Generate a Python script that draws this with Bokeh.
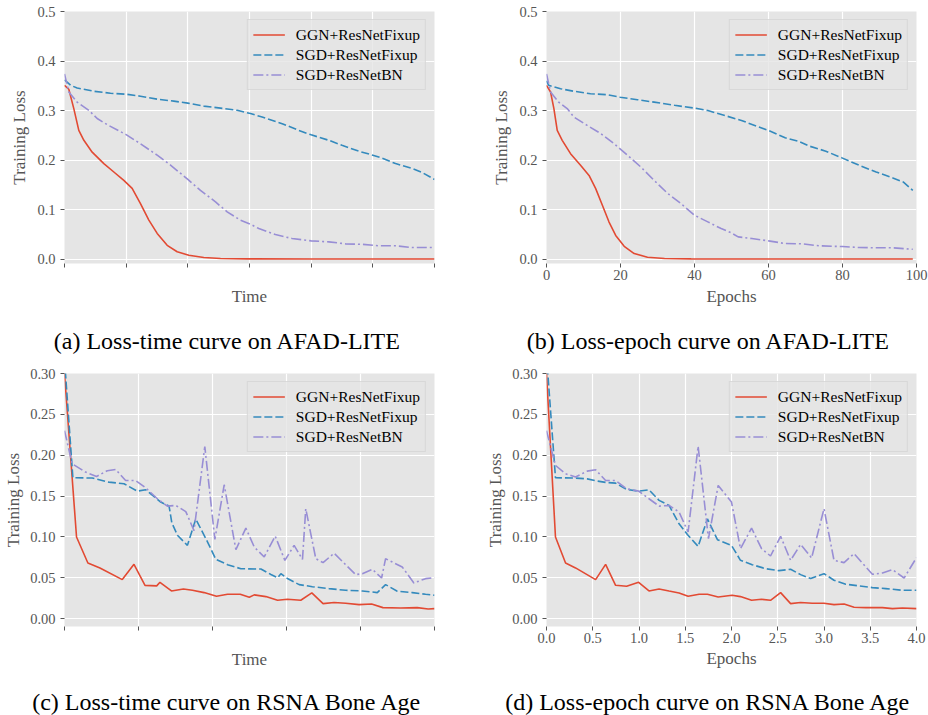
from bokeh.plotting import figure
from bokeh.models import Range1d, Legend, LegendItem, Label, NumeralTickFormatter
from bokeh.layouts import column, row
from bokeh.embed import file_html
from bokeh.resources import INLINE

FONT = "Liberation Serif"
RED, BLUE, PURPLE = "#E24A33", "#348ABD", "#988ED5"
NAMES = ["GGN+ResNetFixup", "SGD+ResNetFixup", "SGD+ResNetBN"]

# ---------------- (a) AFAD-LITE, loss vs time (time in tick units) ----------------
ggn_a_t = [0, 0.07, 0.151, 0.232, 0.314, 0.449, 0.638, 0.8, 0.962, 1.097, 1.232, 1.368, 1.503,
           1.665, 1.827, 2.016, 2.259, 2.53, 2.96, 4.0, 5.0, 6.0]
ggn_a = [0.351, 0.343, 0.304, 0.260, 0.240, 0.216, 0.193, 0.176, 0.159, 0.143, 0.112, 0.079, 0.052,
         0.028, 0.015, 0.008, 0.0034, 0.0013, 0.0007, 0.0005, 0.0005, 0.0005]
fix_a_t = [0, 0.1, 0.205, 0.476, 0.746, 1.0, 1.232, 1.503, 1.773, 2.0, 2.259, 2.53, 2.8, 3.016, 3.205,
           3.53, 3.8, 4.0, 4.286, 4.5, 4.773, 5.0, 5.15, 5.368, 5.638, 5.8, 6.0]
fix_a = [0.362, 0.351, 0.3455, 0.339, 0.335, 0.333, 0.329, 0.323, 0.319, 0.315, 0.309, 0.305, 0.3005,
         0.294, 0.287, 0.2736, 0.260, 0.251, 0.240, 0.230, 0.218, 0.210, 0.204, 0.193, 0.183, 0.175, 0.161]
bn_a_t = [0, 0.07, 0.205, 0.395, 0.53, 0.692, 1.0, 1.232, 1.503, 1.719, 2.0, 2.205, 2.449, 2.638, 2.854,
          3.016, 3.151, 3.42, 3.69, 4.0, 4.286, 4.557, 4.827, 5.097, 5.368, 5.638, 6.0]
bn_a = [0.374, 0.3375, 0.317, 0.3005, 0.284, 0.2716, 0.2514, 0.233, 0.210, 0.190, 0.161, 0.139, 0.1156,
        0.0955, 0.0787, 0.0706, 0.0618, 0.0497, 0.0417, 0.037, 0.035, 0.031, 0.030, 0.027, 0.027, 0.0235, 0.0235]
time_ticks_a = [0, 1, 2, 3, 4, 5, 6]

# ---------------- (b) AFAD-LITE, loss vs epochs ----------------
ggn_b_ep = [0, 1.1, 2.0, 2.9, 4.25, 6.5, 9.2, 11.5, 13.3, 15.1, 16.9, 18.7, 21.0, 23.7, 27.3, 31.9,
            39.1, 60, 80, 99]
ggn_b = [0.351, 0.3375, 0.304, 0.260, 0.240, 0.213, 0.1896, 0.169, 0.1425, 0.109, 0.075, 0.048, 0.026,
         0.0114, 0.004, 0.0013, 0.0007, 0.0005, 0.0005, 0.0005]
fix_b_ep = [0, 0.6, 3.8, 7.4, 11.9, 16.5, 19.9, 24.6, 29.1, 34.6, 40, 43.6, 48.2, 52.7, 57.3, 60, 64.5,
            68.2, 70.9, 75.5, 80, 84.5, 89.1, 93.6, 96.4, 99]
fix_b = [0.36, 0.351, 0.344, 0.339, 0.334, 0.332, 0.327, 0.322, 0.317, 0.3106, 0.305, 0.300, 0.290,
         0.280, 0.267, 0.260, 0.245, 0.238, 0.2286, 0.218, 0.204, 0.1896, 0.176, 0.164, 0.156, 0.139]
bn_b_ep = [0, 1.1, 3.3, 5.6, 7.4, 11.0, 14.7, 18.3, 21.9, 25.5, 29.1, 32.8, 36.4, 40, 43.6, 47.2, 50.0,
           51.8, 55.5, 60, 64.5, 69.1, 73.6, 77.3, 80, 84.5, 89.1, 93.6, 99]
bn_b = [0.374, 0.3375, 0.317, 0.304, 0.287, 0.270, 0.2535, 0.233, 0.210, 0.186, 0.159, 0.1325, 0.112,
        0.0887, 0.0753, 0.0618, 0.053, 0.045, 0.0417, 0.037, 0.0316, 0.031, 0.027, 0.026, 0.0255, 0.0235,
        0.023, 0.023, 0.020]
epoch_ticks_b = [0, 20, 40, 60, 80, 100]

# ---------------- (c) RSNA Bone Age, loss vs time (time in tick units) ----------------
ggn_c_t = [0, 0.1625, 0.316, 0.479, 0.781, 0.939, 1.088, 1.246, 1.29, 1.445, 1.607, 1.729, 1.887, 2.054,
           2.203, 2.375, 2.497, 2.564, 2.721, 2.879, 3.013, 3.193, 3.342, 3.494, 3.643, 3.8, 3.98, 4.15,
           4.303, 4.542, 4.766, 4.915, 5.0]
ggn_c = [0.30, 0.0998, 0.068, 0.062, 0.0477, 0.0664, 0.0407, 0.040, 0.0444, 0.0338, 0.0363, 0.0346,
         0.0318, 0.0273, 0.0297, 0.0297, 0.026, 0.029, 0.0269, 0.0224, 0.0236, 0.0224, 0.0314, 0.0183,
         0.0196, 0.0187, 0.0171, 0.0179, 0.0134, 0.013, 0.0134, 0.0118, 0.0122]
fix_c_t = [0, 0.113, 0.375, 0.6, 0.804, 0.984, 1.097, 1.30, 1.413, 1.45, 1.526, 1.661, 1.774, 1.932,
           2.045, 2.203, 2.384, 2.654, 2.789, 2.879, 2.924, 3.013, 3.171, 3.35, 3.575, 3.8, 4.025, 4.227,
           4.339, 4.497, 4.7, 4.879, 5.0]
fix_c = [0.317, 0.1724, 0.172, 0.167, 0.165, 0.156, 0.1577, 0.1426, 0.1377, 0.1174, 0.102, 0.0896,
         0.1218, 0.094, 0.0725, 0.066, 0.061, 0.0607, 0.054, 0.050, 0.055, 0.049, 0.0416, 0.039, 0.0367,
         0.0346, 0.0338, 0.0318, 0.0416, 0.0334, 0.0318, 0.0297, 0.0285]
bn_c_t = [0, 0.104, 0.284, 0.433, 0.578, 0.69, 0.826, 0.962, 1.097, 1.255, 1.39, 1.503, 1.639, 1.75,
          1.896, 2.032, 2.158, 2.316, 2.451, 2.564, 2.699, 2.847, 2.978, 3.103, 3.216, 3.26, 3.396, 3.494,
          3.643, 3.935, 4.025, 4.16, 4.285, 4.339, 4.564, 4.721, 4.879, 5.0]
bn_c = [0.230, 0.1895, 0.1793, 0.174, 0.181, 0.1826, 0.169, 0.169, 0.160, 0.1467, 0.1377, 0.1385, 0.131,
        0.1076, 0.2105, 0.097, 0.1638, 0.0843, 0.1108, 0.0876, 0.0754, 0.101, 0.0713, 0.0896, 0.0725,
        0.1345, 0.0733, 0.0685, 0.080, 0.0538, 0.055, 0.0603, 0.0497, 0.0733, 0.0632, 0.0436, 0.0489, 0.050]
time_ticks_c = [0, 1, 2, 3, 4, 5]

# ---------------- (d) RSNA Bone Age, loss vs epochs ----------------
ggn_d_ep = [0, 0.097, 0.206, 0.314, 0.531, 0.639, 0.747, 0.866, 0.996, 1.108, 1.217, 1.325, 1.433,
            1.531, 1.65, 1.74, 1.856, 2.007, 2.097, 2.217, 2.325, 2.422, 2.531, 2.639, 2.747, 2.874, 3.0,
            3.108, 3.217, 3.325, 3.451, 3.632, 3.74, 3.848, 4.0]
ggn_d = [0.30, 0.0998, 0.068, 0.062, 0.0477, 0.0664, 0.0407, 0.0395, 0.0444, 0.0338, 0.0363, 0.0338,
         0.0314, 0.0273, 0.0297, 0.0297, 0.0265, 0.0285, 0.0269, 0.0224, 0.0236, 0.0224, 0.0318, 0.0183,
         0.0196, 0.0187, 0.0187, 0.0171, 0.0179, 0.0139, 0.0134, 0.0134, 0.0122, 0.013, 0.0122]
fix_d_ep = [0, 0.097, 0.314, 0.44, 0.531, 0.639, 0.747, 0.866, 0.996, 1.108, 1.217, 1.325, 1.433, 1.523,
            1.639, 1.74, 1.848, 2.0, 2.097, 2.224, 2.368, 2.513, 2.639, 2.747, 2.856, 3.0, 3.108, 3.235,
            3.379, 3.523, 3.668, 3.848, 4.0]
fix_d = [0.322, 0.1724, 0.172, 0.171, 0.1687, 0.1667, 0.1658, 0.158, 0.156, 0.1577, 0.1447, 0.1385,
         0.116, 0.103, 0.0884, 0.122, 0.0966, 0.0896, 0.0713, 0.066, 0.0611, 0.0587, 0.0603, 0.0538, 0.049,
         0.055, 0.0469, 0.042, 0.040, 0.0379, 0.0367, 0.0346, 0.0346]
bn_d_ep = [0, 0.097, 0.206, 0.314, 0.44, 0.531, 0.639, 0.747, 0.866, 0.996, 1.108, 1.217, 1.325, 1.433,
           1.531, 1.639, 1.751, 1.856, 2.0, 2.097, 2.217, 2.325, 2.422, 2.531, 2.639, 2.747, 2.866, 3.0,
           3.108, 3.217, 3.325, 3.523, 3.632, 3.74, 3.866, 4.0]
bn_d = [0.230, 0.1875, 0.1773, 0.1732, 0.1805, 0.1822, 0.169, 0.169, 0.159, 0.156, 0.1467, 0.1377,
        0.1385, 0.1304, 0.106, 0.211, 0.0978, 0.163, 0.1426, 0.0856, 0.1108, 0.0856, 0.0766, 0.1007,
        0.0713, 0.0909, 0.0742, 0.1345, 0.0713, 0.0685, 0.0795, 0.0542, 0.0558, 0.0599, 0.0497, 0.0746]
epoch_ticks_d = [0, 0.5, 1.0, 1.5, 2.0, 2.5, 3.0, 3.5, 4.0]

loss_ticks_top = [0.0, 0.1, 0.2, 0.3, 0.4, 0.5]
loss_ticks_bottom = [0.0, 0.05, 0.10, 0.15, 0.20, 0.25, 0.30]

CAPTIONS = ["(a) Loss-time curve on AFAD-LITE", "(b) Loss-epoch curve on AFAD-LITE",
            "(c) Loss-time curve on RSNA Bone Age", "(d) Loss-epoch curve on RSNA Bone Age"]

W = 464


def panel(height, borders, xr, yr, xticks, yticks, xfmt, yfmt, xlabel, hide_x, series,
          ylab_standoff, xlab_standoff):
    bl, br, bt, bb = borders
    p = figure(width=W, height=height, output_backend="svg", toolbar_location=None,
               x_range=Range1d(*xr), y_range=Range1d(*yr),
               min_border_left=bl, min_border_right=br, min_border_top=bt, min_border_bottom=bb)
    p.background_fill_color = "#E5E5E5"
    p.border_fill_color = "white"
    p.outline_line_color = None
    p.xaxis.ticker = xticks
    p.yaxis.ticker = yticks
    p.yaxis.formatter = NumeralTickFormatter(format=yfmt)
    if hide_x:
        p.xaxis.major_label_overrides = {t: "" for t in xticks}
        p.xaxis.axis_label_standoff = 19
    else:
        p.xaxis.formatter = NumeralTickFormatter(format=xfmt)
        p.xaxis.axis_label_standoff = xlab_standoff
    p.xaxis.axis_label = xlabel
    p.yaxis.axis_label = "Training Loss"
    p.yaxis.axis_label_standoff = ylab_standoff
    for ax in (p.xaxis, p.yaxis):
        ax.axis_line_color = None
        ax.major_tick_line_color = "#555555"
        ax.major_tick_line_width = 1
        ax.major_tick_out = 4
        ax.major_tick_in = 0
        ax.minor_tick_line_color = None
        ax.major_label_text_font = FONT
        ax.major_label_text_font_size = "14.5px"
        ax.major_label_text_color = "#555555"
        ax.axis_label_text_font = FONT
        ax.axis_label_text_font_size = "17px"
        ax.axis_label_text_font_style = "normal"
        ax.axis_label_text_color = "#555555"
    p.xaxis.major_label_standoff = 2
    p.yaxis.major_label_standoff = 5
    for g in (p.xgrid, p.ygrid):
        g.grid_line_color = "white"
        g.grid_line_width = 1.2

    styles = [dict(color=RED, line_dash="solid"), dict(color=BLUE, line_dash="8 3"),
              dict(color=PURPLE, line_dash="10 3 2 3")]
    items = []
    for name, (xs, ys), st in zip(NAMES, series, styles):
        r = p.line(xs, ys, line_color=st["color"], line_width=1.6, line_dash=st["line_dash"])
        items.append(LegendItem(label=name, renderers=[r]))
    leg = Legend(items=items, location="top_right", margin=8, padding=5, spacing=1,
                 label_height=19, glyph_height=19, glyph_width=32, label_standoff=11,
                 label_text_font=FONT, label_text_font_size="15.5px", label_text_color="black",
                 background_fill_color="#E5E5E5", background_fill_alpha=0.8,
                 border_line_color="#CCCCCC", border_line_width=1)
    p.add_layout(leg)
    return p


def caption_fig(text, height, cx, cy):
    c = figure(width=W, height=height, output_backend="svg", toolbar_location=None,
               x_range=Range1d(0, W), y_range=Range1d(0, height),
               x_axis_type=None, y_axis_type=None, min_border=0)
    c.grid.visible = False
    c.outline_line_color = None
    c.background_fill_color = "white"
    c.border_fill_color = "white"
    c.add_layout(Label(x=cx, y=cy, text=text, text_font=FONT, text_font_size="24px",
                       text_color="black", text_align="center", text_baseline="middle"))
    return c


pa = panel(322, (64, 30, 11, 59), (0, 6), (-0.0087, 0.5), time_ticks_a, loss_ticks_top, "0", "0.0",
           "Time", True, [(ggn_a_t, ggn_a), (fix_a_t, fix_a), (bn_a_t, bn_a)], 5, 4)
pb = panel(322, (82, 12, 11, 59), (0, 100), (-0.0087, 0.5), epoch_ticks_b, loss_ticks_top, "0", "0.0",
           "Epochs", False, [(ggn_b_ep, ggn_b), (fix_b_ep, fix_b), (bn_b_ep, bn_b)], 5, 4)
pc = panel(328, (64, 30, 16, 59), (0, 5), (-0.0097, 0.30), time_ticks_c, loss_ticks_bottom, "0", "0.00",
           "Time", True, [(ggn_c_t, ggn_c), (fix_c_t, fix_c), (bn_c_t, bn_c)], 4, 3)
pd_ = panel(328, (82, 12, 16, 59), (0, 4), (-0.0097, 0.30), epoch_ticks_d, loss_ticks_bottom, "0.0", "0.00",
            "Epochs", False, [(ggn_d_ep, ggn_d), (fix_d_ep, fix_d), (bn_d_ep, bn_d)], 4, 3)

ca = caption_fig(CAPTIONS[0], 35, 227, 17)
cb = caption_fig(CAPTIONS[1], 35, 244, 17)
cc = caption_fig(CAPTIONS[2], 30, 227, 14)
cd = caption_fig(CAPTIONS[3], 30, 244, 14)

layout = column(row(pa, pb), row(ca, cb), row(pc, pd_), row(cc, cd))
open("out.html", "w").write(file_html(layout, INLINE))
